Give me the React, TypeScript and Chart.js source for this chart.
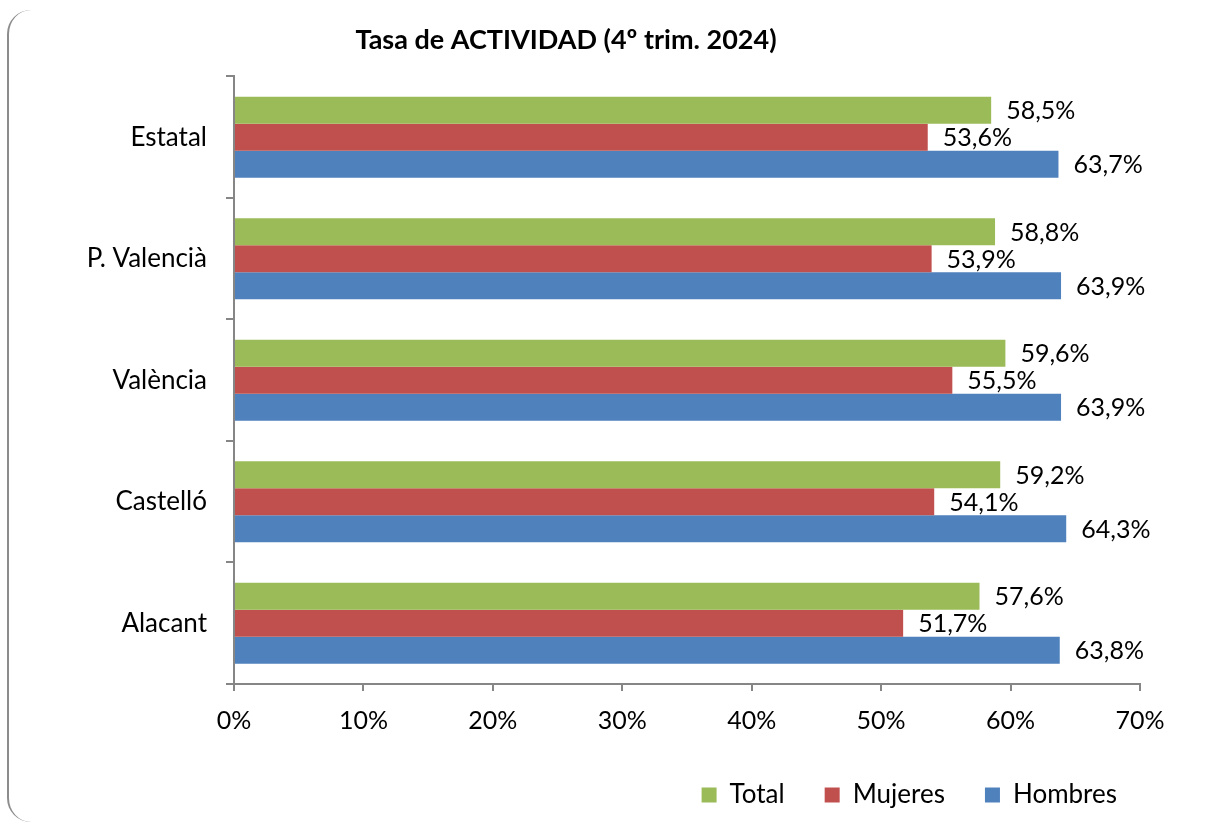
import React, { useEffect, useRef } from "react";
import { Chart, registerables } from "chart.js";

Chart.register(...registerables);

const categories = ["Estatal", "P. Valencià", "València", "Castelló", "Alacant"];
const seriesNames = ["Total", "Mujeres", "Hombres"];
const totalValues = [58.5, 58.8, 59.6, 59.2, 57.6];
const mujeresValues = [53.6, 53.9, 55.5, 54.1, 51.7];
const hombresValues = [63.7, 63.9, 63.9, 64.3, 63.8];
const xMin = 0;
const xMax = 70;
const xStep = 10;
const titleText = "Tasa de ACTIVIDAD (4º trim. 2024)";

const COLORS = ["#9BBB59", "#C0504D", "#4F81BD"];
const AXIS = "#868686";
const FONT = "Lato";

const fmt = (v: number) => v.toFixed(1).replace(".", ",") + "%";

const dataLabels = {
  id: "dataLabels",
  afterDatasetsDraw(chart: any) {
    const ctx = chart.ctx;
    ctx.save();
    ctx.font = `25px ${FONT}`;
    ctx.fillStyle = "#000";
    ctx.textAlign = "left";
    ctx.textBaseline = "middle";
    chart.data.datasets.forEach((ds: any, i: number) => {
      const meta = chart.getDatasetMeta(i);
      meta.data.forEach((bar: any, j: number) => {
        ctx.fillText(fmt(ds.data[j]), bar.x + 15, bar.y + 1);
      });
    });
    ctx.restore();
  },
};

const placeBoxes = {
  id: "placeBoxes",
  afterLayout(chart: any) {
    if (chart.legend) {
      chart.legend.right = 1157;
    }
    if (chart.titleBlock) {
      chart.titleBlock.left -= 4;
      chart.titleBlock.right -= 4;
    }
  },
};

export default function App() {
  const ref = useRef<HTMLCanvasElement | null>(null);

  useEffect(() => {
    if (!ref.current) return;
    const values = [totalValues, mujeresValues, hombresValues];
    const chart = new Chart(ref.current, {
      type: "bar",
      data: {
        labels: categories,
        datasets: seriesNames.map((name, i) => ({
          label: name,
          data: values[i],
          backgroundColor: COLORS[i],
          borderWidth: 0,
          categoryPercentage: 0.666,
          barPercentage: 1,
        })),
      },
      options: {
        indexAxis: "y",
        animation: false,
        responsive: false,
        layout: { padding: { left: 0, right: 71, top: 0, bottom: 7 } },
        scales: {
          x: {
            min: xMin,
            max: xMax,
            ticks: {
              stepSize: xStep,
              callback: (v: any) => v + "%",
              color: "#000",
              font: { family: FONT, size: 25 },
              padding: 15,
            },
            grid: {
              drawOnChartArea: false,
              drawTicks: true,
              tickLength: 7,
              color: AXIS,
              lineWidth: 2,
            },
            border: { display: true, color: AXIS, width: 2 },
            afterFit: (s: any) => {
              s.height = 58;
            },
          },
          y: {
            ticks: {
              color: "#000",
              font: { family: FONT, size: 26 },
              padding: 19,
            },
            grid: {
              drawOnChartArea: false,
              drawTicks: true,
              tickLength: 8,
              color: AXIS,
              lineWidth: 2,
              offset: true,
            },
            border: { display: true, color: AXIS, width: 2 },
            afterFit: (s: any) => {
              s.width = 234;
            },
          },
        },
        plugins: {
          title: {
            display: true,
            text: titleText,
            color: "#000",
            font: { family: FONT, size: 27, weight: "bold" },
            padding: { top: 24, bottom: 20 },
          },
          legend: {
            display: true,
            position: "bottom",
            align: "end",
            labels: {
              boxWidth: 15,
              boxHeight: 15,
              padding: 40,
              color: "#000",
              font: { family: FONT, size: 26 },
            },
          },
          tooltip: { enabled: false },
        },
      },
      plugins: [dataLabels, placeBoxes],
    } as any);
    return () => chart.destroy();
  }, []);

  return (
    <div style={{ position: "fixed", left: 0, top: 0, width: 1211, height: 825, background: "#fff", overflow: "hidden" }}>
      <div
        style={{
          position: "absolute",
          left: 7,
          top: 10,
          width: 1400,
          height: 812,
          borderLeft: "2px solid #8c8c8c",
          borderRadius: 24,
          boxSizing: "border-box",
        }}
      />
      <canvas ref={ref} width={1211} height={825} style={{ position: "absolute", left: 0, top: 0 }} />
    </div>
  );
}
